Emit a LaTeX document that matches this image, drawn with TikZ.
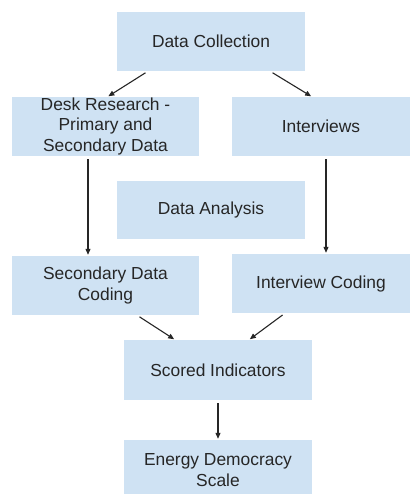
\documentclass[tikz,border=0pt]{standalone}
\usepackage{fontspec}
\setmainfont{Liberation Sans}
\usetikzlibrary{arrows.meta}
\definecolor{boxblue}{HTML}{CFE2F3}
\definecolor{inkgray}{HTML}{262626}
\begin{document}
\begin{tikzpicture}[x=1pt,y=-1pt,font=\fontsize{17.4}{20.5}\selectfont,
  box/.style={fill=boxblue,text=inkgray,align=center,inner sep=0pt,minimum height=59pt},
  arr/.style={-{Triangle[length=6pt,width=5pt]},line width=1.1pt,black!85,shorten <=3pt,shorten >=1pt}]
  % Coordinates are pixels of the 410x494 layout, y pointing down.
  \useasboundingbox (0,0) rectangle (410,494);
  \fill[white] (0,0) rectangle (410,494);
  \node[box,minimum width=188pt] (dc) at (211,41.5) {Data Collection};
  \node[box,minimum width=187pt] (desk) at (105.5,126.5) {Desk Research -\\Primary and\\Secondary Data};
  \node[box,minimum width=178pt] (intv) at (321,126.5) {Interviews};
  \node[box,minimum width=188pt,minimum height=58pt] (da) at (211,210) {Data Analysis};
  \node[box,minimum width=187pt] (sdc) at (105.5,285.5) {Secondary Data\\Coding};
  \node[box,minimum width=178pt] (ic) at (321,283.5) {Interview Coding};
  \node[box,minimum width=188pt,minimum height=60pt] (si) at (218,370) {Scored Indicators};
  \node[box,minimum width=188pt,minimum height=60pt] (eds) at (218,470) {Energy Democracy\\Scale};
  \draw[arr] ([xshift=-63pt]dc.south) -- ([xshift=2pt]desk.north);
  \draw[arr] ([xshift=59pt]dc.south) -- ([xshift=-9pt]intv.north);
  \draw[arr] ([xshift=-17.5pt]desk.south) -- ([xshift=-17.5pt]sdc.north);
  \draw[arr] ([xshift=5pt]intv.south) -- ([xshift=5pt]ic.north);
  \draw[arr] ([xshift=31.5pt]sdc.south) -- ([xshift=-43pt]si.north);
  \draw[arr] ([xshift=-36pt]ic.south) -- ([xshift=31pt]si.north);
  \draw[arr] (si.south) -- (eds.north);
\end{tikzpicture}
\end{document}
